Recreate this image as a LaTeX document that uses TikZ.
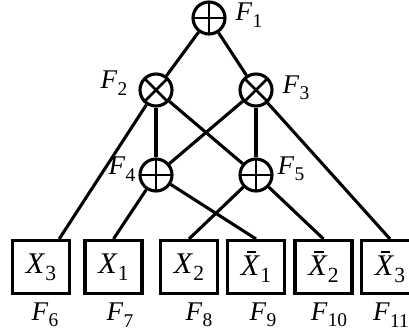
\documentclass[tikz,border=0pt]{standalone}
\usepackage{fontspec}
\usepackage{graphicx}
\setmainfont{Liberation Serif}
\newcommand\symsub[2]{\textit{#1}\kern0.01em\raisebox{-0.24em}{\scalebox{0.72}{#2}}}
\newcommand\xbarsub[1]{\rlap{\kern0.2em\raisebox{0.76em}{\rule{0.32em}{0.055em}}}\symsub{X}{#1}}
\begin{document}
\begin{tikzpicture}[x=1pt,y=-1pt,line width=3.1pt,
  op/.style={circle,draw,minimum size=32pt,inner sep=0pt},
  oplus/.style={op,path picture={\draw[line width=2.8pt]
     (path picture bounding box.north) -- (path picture bounding box.south)
     (path picture bounding box.west) -- (path picture bounding box.east);}},
  otimes/.style={op,path picture={\draw[line width=2.8pt]
     (path picture bounding box.north west) -- (path picture bounding box.south east)
     (path picture bounding box.north east) -- (path picture bounding box.south west);}},
  var/.style={draw,minimum width=57pt,minimum height=53pt,inner sep=0pt,font=\fontsize{30}{32}\selectfont},
  lab/.style={inner sep=0pt,font=\fontsize{27}{29}\selectfont}]
\useasboundingbox (0,0) rectangle (409,332);
% operator nodes
\node[oplus]  (F1) at (209,18) {};
\node[otimes] (F2) at (156,90) {};
\node[otimes] (F3) at (256,90) {};
\node[oplus]  (F4) at (156,175) {};
\node[oplus]  (F5) at (256,175) {};
% variable boxes
\node[var] (X3)  at (41,267)    {\symsub{X}{3}};
\node[var] (X1)  at (113.5,267) {\symsub{X}{1}};
\node[var] (X2)  at (189,267)   {\symsub{X}{2}};
\node[var] (Xb1) at (256,267)   {\xbarsub{1}};
\node[var] (Xb2) at (323.5,267) {\xbarsub{2}};
\node[var] (Xb3) at (390,267)   {\xbarsub{3}};
% labels
\node[lab] (L1)  at (249,15)  {\symsub{F}{1}};
\node[lab] (L2)  at (114,83)  {\symsub{F}{2}};
\node[lab] (L3)  at (296,88)  {\symsub{F}{3}};
\node[lab] (L4)  at (122,169) {\symsub{F}{4}};
\node[lab] (L5)  at (291,169) {\symsub{F}{5}};
\node[lab] (L6)  at (45,315)  {\symsub{F}{6}};
\node[lab] (L7)  at (120,315) {\symsub{F}{7}};
\node[lab] (L8)  at (199,315) {\symsub{F}{8}};
\node[lab] (L9)  at (263,315) {\symsub{F}{9}};
\node[lab] (L10) at (329,315) {\symsub{F}{10}};
\node[lab] (L11) at (391,315) {\symsub{F}{11}};
% connectors
\draw (F1) -- (F2);
\draw (F1) -- (F3);
\draw (F2) -- (X3);
\draw (F2) -- (F4);
\draw (F2) -- (F5);
\draw (F3) -- (F4);
\draw (F3) -- (F5);
\draw (F3) -- (Xb3.north);
\draw (F4) -- (X1.north);
\draw (F4) -- (Xb1.north);
\draw (F5) -- (X2.north);
\draw (F5) -- (Xb2.north);
\end{tikzpicture}
\end{document}
